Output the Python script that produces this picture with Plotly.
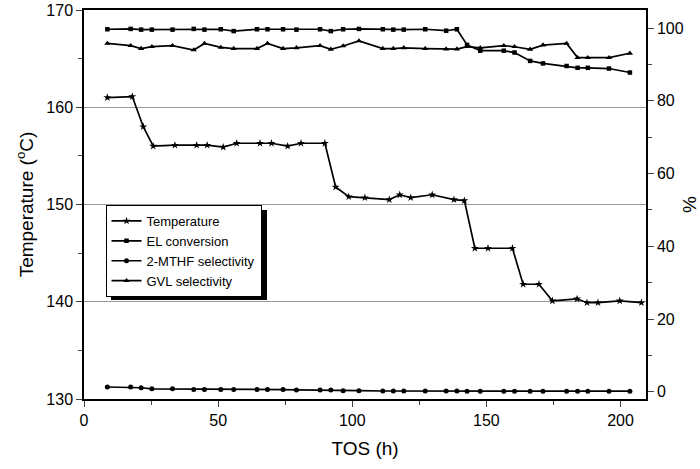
import plotly.graph_objects as go

# time on stream (h) for temperature readings
tos_temp = [8.7, 18.0, 22.1, 25.8, 33.9, 42.0, 45.9, 51.9, 56.9, 65.6, 69.9, 75.9, 80.9, 89.8,
            93.8, 98.7, 104.7, 113.8, 117.7, 121.8, 129.8, 137.9, 141.8, 145.7, 150.6, 159.7,
            163.7, 169.6, 174.6, 183.8, 187.5, 191.6, 199.7, 207.8]
temperature = [161.0, 161.1, 158.0, 156.0, 156.1, 156.1, 156.1, 155.9, 156.3, 156.3, 156.3, 156.0,
               156.3, 156.3, 151.8, 150.8, 150.7, 150.5, 151.0, 150.7, 151.0, 150.5, 150.4, 145.5,
               145.5, 145.5, 141.8, 141.8, 140.1, 140.3, 139.9, 139.9, 140.1, 139.9]

# time on stream (h) for conversion / selectivity
tos = [8.7, 17.4, 21.3, 25.3, 33.0, 40.9, 44.9, 51.0, 55.8, 64.5, 68.4, 74.2, 79.2, 88.0, 92.0,
       96.6, 102.5, 111.4, 115.3, 119.2, 127.2, 135.0, 139.0, 142.8, 147.7, 156.5, 160.5, 166.3,
       171.1, 179.9, 184.0, 187.8, 195.7, 203.5]
el_conversion = [99.7, 99.8, 99.6, 99.6, 99.6, 99.8, 99.6, 99.7, 99.2, 99.7, 99.7, 99.7, 99.6,
                 99.7, 99.2, 99.7, 99.8, 99.7, 99.6, 99.6, 99.7, 99.3, 99.7, 95.4, 93.8, 93.8,
                 93.3, 91.0, 90.3, 89.6, 89.1, 89.1, 88.9, 87.8]
mthf_sel = [1.3, 1.3, 1.1, 0.8, 0.8, 0.6, 0.6, 0.6, 0.6, 0.6, 0.6, 0.6, 0.5, 0.5, 0.5, 0.3, 0.3,
            0.2, 0.2, 0.2, 0.2, 0.2, 0.2, 0.1, 0.1, 0.1, 0.1, 0.15, 0.15, 0.15, 0.1, 0.1, 0.15, 0.15]
gvl_sel = [95.8, 95.2, 94.4, 94.9, 95.2, 94.0, 95.8, 94.7, 94.4, 94.4, 95.8, 94.4, 94.6, 95.2,
           94.2, 95.1, 96.5, 94.4, 94.4, 94.6, 94.4, 94.25, 94.25, 94.9, 94.6, 95.2, 94.9, 94.2,
           95.35, 95.8, 91.9, 91.9, 91.9, 93.1]

font = "Arial, Liberation Sans, sans-serif"
line = dict(color="black", width=1.7)

fig = go.Figure()
fig.add_trace(go.Scatter(x=tos_temp, y=temperature, name="Temperature", mode="lines+markers",
                         line=line, marker=dict(symbol="star", size=6, color="black")))
fig.add_trace(go.Scatter(x=tos, y=el_conversion, name="EL conversion", mode="lines+markers",
                         line=line, marker=dict(symbol="square", size=4.5, color="black"), yaxis="y2"))
fig.add_trace(go.Scatter(x=tos, y=mthf_sel, name="2-MTHF selectivity", mode="lines+markers",
                         line=line, marker=dict(symbol="circle", size=5, color="black"), yaxis="y2"))
fig.add_trace(go.Scatter(x=tos, y=gvl_sel, name="GVL selectivity", mode="lines+markers",
                         line=line, marker=dict(symbol="triangle-up", size=5.5, color="black"), yaxis="y2"))

# legend drop shadow (plot area is 562 x 389 px)
fig.add_shape(type="rect", xref="paper", yref="paper",
              x0=27 / 562, x1=183 / 562, y0=99 / 389, y1=189 / 389,
              fillcolor="black", line_width=0, layer="above")

fig.update_layout(
    width=700, height=469,
    margin=dict(l=84, r=54, t=10, b=70),
    paper_bgcolor="white", plot_bgcolor="white",
    font=dict(family=font, size=16, color="black"),
    showlegend=True,
    legend=dict(x=21.5 / 562, y=194 / 389, xanchor="left", yanchor="top", bgcolor="white",
                bordercolor="black", borderwidth=1, font=dict(size=13), tracegroupgap=0),
    xaxis=dict(range=[0, 209.5], tickvals=[0, 50, 100, 150, 200], ticks="outside", ticklen=6,
               tickwidth=1, showline=True, linecolor="black", linewidth=1.5, mirror=True,
               showgrid=False, zeroline=False, automargin=False,
               minor=dict(tickvals=[25, 75, 125, 175], ticks="outside", ticklen=4),
               title=dict(text="TOS (h)", font=dict(size=19), standoff=14)),
    yaxis=dict(range=[130, 170], tickvals=[130, 140, 150, 160, 170], ticks="outside", ticklen=6,
               tickwidth=1, showline=True, linecolor="black", linewidth=1.5, mirror=True,
               showgrid=True, gridcolor="#9a9a9a", gridwidth=1, zeroline=False, automargin=False,
               minor=dict(tickvals=[135, 145, 155, 165], ticks="outside", ticklen=4, showgrid=False),
               title=dict(text="Temperature (<sup>o</sup>C)", font=dict(size=19), standoff=8)),
    yaxis2=dict(range=[-2, 105], overlaying="y", side="right", tickvals=[0, 20, 40, 60, 80, 100],
                ticks="outside", ticklen=6, tickwidth=1, showline=True, linecolor="black",
                linewidth=1.5, showgrid=False, zeroline=False, automargin=False,
                minor=dict(tickvals=[10, 30, 50, 70, 90], ticks="outside", ticklen=4),
                title=dict(text="%", font=dict(size=19), standoff=2)),
)

# drop the page's default 8px body margin so the figure sits at the window corner
fig.write_html("out.html", config={"displayModeBar": False},
               post_script="document.body.style.margin='0';")
